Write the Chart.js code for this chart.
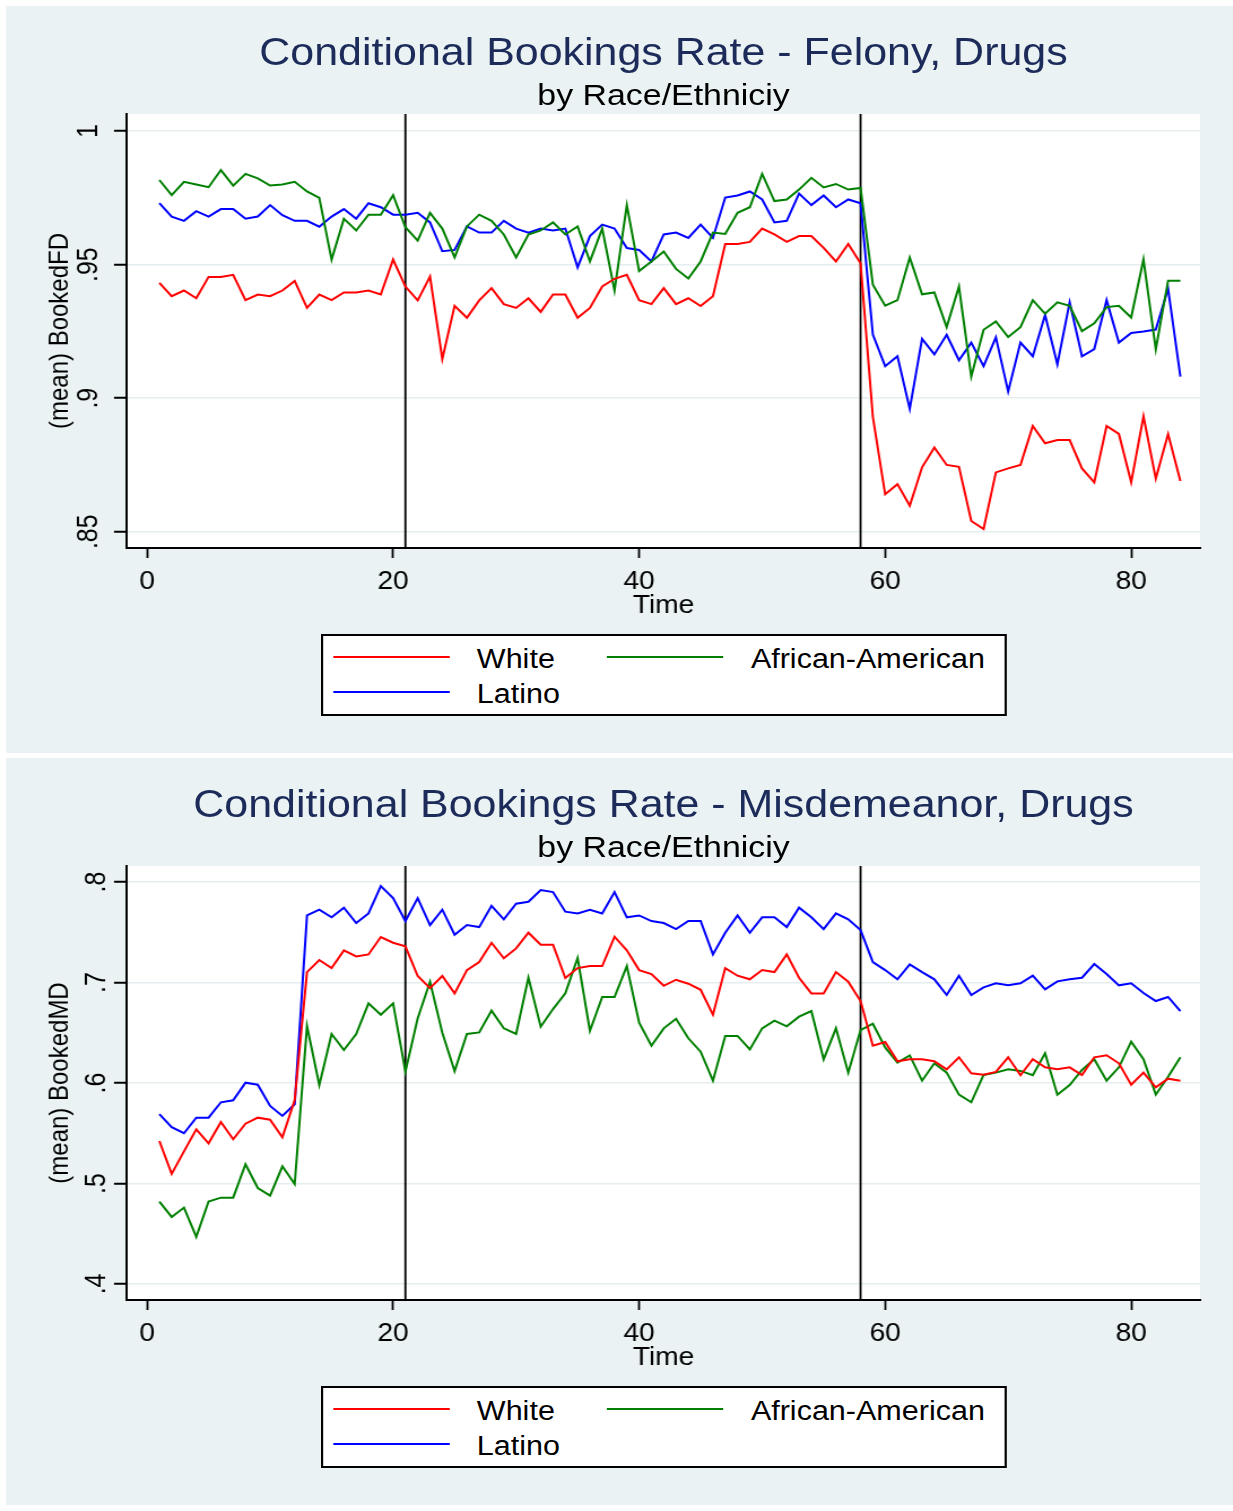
<!DOCTYPE html>
<html>
<head>
<meta charset="utf-8">
<script src="https://cdn.jsdelivr.net/npm/chart.js@4.4.0/dist/chart.umd.min.js"></script>
<style>
  body { margin: 0; background: #fff; overflow: hidden; width: 1233px; height: 1511px; position: relative;
         font-family: "Liberation Sans", Arial, sans-serif; }
  .panel { position: absolute; left: 6px; width: 1227px; height: 747px; background: #eaf2f3; }
  /* the reference text is a little wide: draw narrower and stretch the whole panel */
  .stretch { position: absolute; left: 0; width: 1091px; height: 753px; transform: scaleX(1.13); transform-origin: 0 0; }
  .stretch canvas { position: absolute; left: 0; top: 0; }
  .ttl { position: absolute; left: 112.4px; width: 949.6px; text-align: center; white-space: nowrap; }
  .main { top: 32.5px; font-size: 38px; line-height: 38px; color: #1c2b59; }
  .sub { top: 79.5px; font-size: 30px; line-height: 30px; color: #000; }
  .legend { position: absolute; left: 284px; top: 634px; width: 603px; height: 78px; background: #fff; border: 2px solid #000; }
  .legend .ln { position: absolute; height: 2px; }
  .legend .tx { position: absolute; font-size: 27px; line-height: 27px; color: #000; white-space: nowrap; }
</style>
</head>
<body>
<div class="panel" style="top:6px"></div>
<div class="panel" style="top:758px"></div>

<div class="stretch" style="top:0">
  <canvas id="fd" width="1091" height="753"></canvas>
  <div class="ttl main">Conditional Bookings Rate - Felony, Drugs</div>
  <div class="ttl sub">by Race/Ethniciy</div>
  <div class="legend" id="legFD"></div>
</div>
<div class="stretch" style="top:752px">
  <canvas id="md" width="1091" height="753"></canvas>
  <div class="ttl main">Conditional Bookings Rate - Misdemeanor, Drugs</div>
  <div class="ttl sub">by Race/Ethniciy</div>
  <div class="legend" id="legMD"></div>
</div>

<script>
const FONT = '"Liberation Sans", Arial, sans-serif';

// time periods and axis ticks
const periods = Array.from({ length: 84 }, (_, i) => i + 1);
const xTicks = [0, 20, 40, 60, 80];
const eventLines = [21, 58];
const fdTicks = [0.85, 0.9, 0.95, 1];
const mdTicks = [0.4, 0.5, 0.6, 0.7, 0.8];

const seriesNames = ['White', 'African-American', 'Latino'];
const seriesColors = ['#ff0000', '#008000', '#0000ff'];

// Felony, drugs
const whiteFD = [
  .9432, .9382, .9403, .9374, .9454, .9454, .9462, .9367, .9388, .9382,
  .9403, .9439, .9338, .9388, .9367, .9396, .9396, .9403, .9388, .9519,
  .9418, .9366, .9455, .9147, .9346, .9301, .9366, .9412, .9352, .9338,
  .9374, .9323, .9388, .9388, .9301, .9338, .9418, .9447, .9462, .9367,
  .9352, .9412, .9352, .9374, .9345, .9382, .9577, .9577, .9585, .9635,
  .9613, .9585, .9607, .9607, .9563, .9512, .9577, .9505, .893, .864,
  .8678, .8597, .8741, .8815, .875, .8743, .854, .851, .8722, .8737,
  .875, .8896, .8831, .8843, .8843, .8737, .8685, .8896, .8866, .8685,
  .8932, .8699, .8866, .869
];
const blackFD = [
  .9817, .976, .981, .980, .979, .9854, .9796, .984, .9823, .9796,
  .980, .981, .9774, .975, .9519, .9672, .9628, .9687, .9687, .976,
  .964, .959, .9694, .9635, .9527, .9643, .9687, .9664, .9613, .9527,
  .9613, .9628, .9658, .9613, .9643, .9512, .9635, .9403, .9723, .9476,
  .9512, .9549, .9484, .9448, .9512, .962, .9615, .9694, .9715, .984,
  .9738, .9744, .9781, .9825, .9789, .9802, .9781, .9787, .9425, .9346,
  .9367, .9527, .9389, .9396, .9266, .9418, .9081, .9256, .9287, .9229,
  .9266, .9367, .9316, .9359, .9346, .9251, .928, .9341, .9346, .9302,
  .952, .9183, .944, .944
];
const latinoFD = [
  .973, .968, .9664, .970, .968, .9708, .9708, .9672, .968, .9723,
  .9685, .9664, .9664, .9642, .968, .9708, .9672, .973, .9715, .9687,
  .9687, .9694, .9658, .955, .9555, .9643, .962, .962, .9664, .9635,
  .962, .9635, .9628, .9635, .949, .9607, .965, .9635, .9562, .9555,
  .9512, .9613, .962, .960, .965, .960, .9751, .9759, .9774, .9744,
  .9658, .9664, .9766, .9723, .9759, .9715, .9744, .973, .9238, .912,
  .9157, .896, .9222, .9164, .9237, .9142, .9208, .912, .9228, .9025,
  .9208, .9157, .9311, .9127, .9359, .9157, .9184, .9367, .9208, .9244,
  .925, .9257, .941, .9081
];

// Misdemeanor, drugs
const whiteMD = [
  .5423, .5095, .532, .5539, .54, .5612, .544, .5595, .5655, .5635,
  .546, .5831, .7104, .7224, .7144, .732, .726, .728, .7453, .7396,
  .736, .7065, .6945, .7065, .6892, .7124, .7204, .7396, .7241, .734,
  .7496, .7376, .7376, .7045, .7144, .7164, .7164, .7456, .732, .7124,
  .7085, .6968, .7028, .6988, .6928, .668, .7144, .7068, .7032, .7124,
  .7104, .728, .7048, .6892, .6892, .7104, .7008, .6816, .6371, .6408,
  .6216, .6236, .6236, .6216, .6136, .6256, .6096, .6083, .611, .6256,
  .6077, .6236, .6156, .6136, .6156, .608, .6256, .6276, .6196, .5983,
  .6103, .5957, .6043, .6023
];
const blackMD = [
  .4819, .4667, .476, .4468, .482, .4859, .4859, .5191, .4955, .4879,
  .5171, .4995, .6567, .598, .6488, .6328, .6488, .6793, .668, .6793,
  .6113, .6644, .7008, .65, .6119, .6488, .6504, .672, .6544, .6488,
  .7048, .656, .6736, .6892, .7244, .652, .6856, .6856, .7164, .66,
  .6371, .6544, .664, .6445, .6312, .6023, .6468, .6468, .6335, .6544,
  .662, .6564, .666, .6716, .6236, .6544, .6103, .6527, .659, .6354,
  .6203, .6275, .6023, .6196, .6103, .5884, .5808, .608, .6103, .6136,
  .612, .6077, .6296, .5884, .598, .613, .6236, .6023, .6156, .6411,
  .6236, .5884, .6063, .6256
];
const latinoMD = [
  .569, .556, .550, .5655, .5655, .5808, .5828, .6003, .5983, .5771,
  .5672, .5788, .7668, .7725, .7649, .7745, .7592, .7688, .796, .784,
  .7612, .784, .7572, .7725, .7476, .7572, .7552, .7764, .7629, .7784,
  .7804, .792, .790, .7705, .7688, .7725, .7688, .790, .7649, .7668,
  .7612, .7592, .7532, .7612, .7612, .728, .7496, .7668, .7496, .7649,
  .7649, .7552, .7745, .7649, .7532, .7688, .7629, .7522, .7204, .7124,
  .7032, .7181, .7104, .7032, .6876, .7068, .6876, .6952, .6992, .6972,
  .6992, .7068, .6932, .7012, .7032, .7048, .7184, .7085, .6972, .6992,
  .6896, .6816, .6856, .6716
];

// white plot region
const plotBg = {
  id: 'plotBg',
  beforeDraw(chart) {
    const a = chart.chartArea;
    chart.ctx.save();
    chart.ctx.fillStyle = '#fff';
    chart.ctx.fillRect(a.left, a.top, a.right - a.left, a.bottom - a.top);
    chart.ctx.restore();
  }
};

// vertical reference lines
const xLines = {
  id: 'xLines',
  beforeDatasetsDraw(chart) {
    const { ctx, chartArea: a, scales: { x } } = chart;
    ctx.save();
    ctx.strokeStyle = '#000';
    ctx.lineWidth = 1.8;
    eventLines.forEach(t => {
      const px = x.getPixelForValue(t);
      ctx.beginPath();
      ctx.moveTo(px, a.top);
      ctx.lineTo(px, a.bottom);
      ctx.stroke();
    });
    ctx.restore();
  }
};

function makeChart(id, series, yTicks, yMin, yMax, yTitle) {
  return new Chart(document.getElementById(id), {
    type: 'line',
    data: {
      labels: periods,
      datasets: series.map((s, i) => ({
        label: seriesNames[i],
        data: s,
        borderColor: seriesColors[i],
        borderWidth: 2,
        pointRadius: 0,
        tension: 0,
        fill: false
      }))
    },
    options: {
      responsive: false,
      animation: false,
      devicePixelRatio: 1,
      layout: { padding: { left: 0, right: 29, top: 114, bottom: 132 } },
      plugins: { legend: { display: false }, tooltip: { enabled: false } },
      scales: {
        x: {
          type: 'linear',
          min: -1.63,
          max: 85.6,
          afterBuildTicks: s => { s.ticks = xTicks.map(v => ({ value: v })); },
          afterFit: s => { s.height = 73; },
          grid: { drawOnChartArea: false, tickLength: 10, tickColor: '#000', tickWidth: 1.8 },
          border: { color: '#000', width: 2 },
          ticks: { color: '#000', font: { family: FONT, size: 25 }, padding: 9.5, maxRotation: 0 },
          title: { display: true, text: 'Time', color: '#000', font: { family: FONT, size: 25 }, padding: 0 }
        },
        y: {
          min: yMin,
          max: yMax,
          afterBuildTicks: s => { s.ticks = yTicks.map(v => ({ value: v })); },
          afterFit: s => { s.width = 112.4; },
          grid: { color: '#e5edf0', lineWidth: 1.5, tickLength: 11.5, tickColor: '#000', tickWidth: 2 },
          border: { color: '#000', width: 2 },
          ticks: {
            color: '#000', font: { family: FONT, size: 25 },
            minRotation: 90, maxRotation: 90, crossAlign: 'center', padding: 4,
            callback: v => String(v).replace(/^0\./, '.')
          },
          title: { display: true, text: yTitle, color: '#000', font: { family: FONT, size: 24 }, padding: { top: 38.7, bottom: 0 } }
        }
      }
    },
    plugins: [plotBg, xLines]
  });
}

function makeLegend(id) {
  const box = document.getElementById(id);
  const slots = [
    { line: 8.6, text: 136, top: 0 },
    { line: 251.1, text: 378.5, top: 0 },
    { line: 8.6, text: 136, top: 35 }
  ];
  seriesNames.forEach((name, i) => {
    const ln = document.createElement('div');
    ln.className = 'ln';
    ln.style.left = slots[i].line + 'px';
    ln.style.top = (20 + slots[i].top) + 'px';
    ln.style.width = '103px';
    ln.style.background = seriesColors[i];
    box.appendChild(ln);
    const tx = document.createElement('div');
    tx.className = 'tx';
    tx.style.left = slots[i].text + 'px';
    tx.style.top = (10 + slots[i].top) + 'px';
    tx.textContent = name;
    box.appendChild(tx);
  });
}

makeChart('fd', [whiteFD, blackFD, latinoFD], fdTicks, 0.8439, 1.0064, '(mean) BookedFD');
makeChart('md', [whiteMD, blackMD, latinoMD], mdTicks, 0.384, 0.816, '(mean) BookedMD');
makeLegend('legFD');
makeLegend('legMD');
</script>
</body>
</html>
